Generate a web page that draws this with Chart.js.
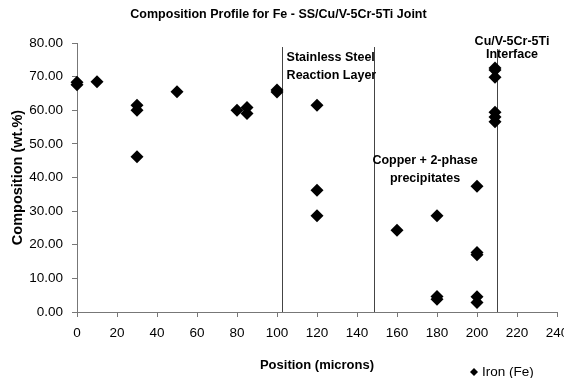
<!DOCTYPE html>
<html>
<head>
<meta charset="utf-8">
<script src="https://cdn.jsdelivr.net/npm/chart.js@4"></script>
<style>
  html, body { margin: 0; padding: 0; background: #fff; }
  #wrap { width: 564px; height: 378px; }
</style>
</head>
<body>
<div id="wrap"><canvas id="chart"></canvas></div>
<script>
// data
const positions = [0, 0, 10, 30, 30, 30, 50, 80, 85, 85, 100, 100, 120, 120, 120, 160, 180, 180, 180, 200, 200, 200, 200, 200, 209, 209, 209, 209, 209, 209]
const iron = [68.3, 67.6, 68.5, 61.5, 60, 46.2, 65.5, 60, 60.8, 59, 66, 65.4, 61.5, 36.2, 28.6, 24.3, 28.6, 4.6, 3.8, 37.4, 17.7, 17, 4.5, 2.8, 72.6, 72, 69.8, 59.4, 58, 56.6]
const xTicks = [0, 240, 20]
const yTicks = [0, 80, 10]

// region boundaries (microns) and their top (wt.%)
const boundaries = [102.5, 148.5, 210]
const boundaryTops = [78.8, 78.8, 78.2]

// region labels: text, x, y (data units), align
const regionLabels = [
  ['Stainless Steel', 104.8, 75.8, 'left'],
  ['Reaction Layer', 104.8, 70.4, 'left'],
  ['Copper + 2-phase', 174, 44.9, 'center'],
  ['precipitates', 174, 39.6, 'center'],
  ['Cu/V-5Cr-5Ti', 217.5, 80.4, 'center'],
  ['Interface', 217.5, 76.6, 'center']
]

const points = positions.map((x, i) => ({ x: x, y: iron[i] }))

const annotations = {
  id: 'annotations',
  beforeDatasetsDraw(chart) {
    const { ctx, scales: { x, y } } = chart
    ctx.save()
    ctx.strokeStyle = '#444'
    ctx.lineWidth = 1
    boundaries.forEach((b, i) => {
      const px = Math.round(x.getPixelForValue(b)) + 0.5
      ctx.beginPath()
      ctx.moveTo(px, y.getPixelForValue(boundaryTops[i]))
      ctx.lineTo(px, y.getPixelForValue(0))
      ctx.stroke()
    })
    ctx.restore()
  },
  afterDraw(chart) {
    const { ctx, scales: { x, y } } = chart
    ctx.save()
    ctx.fillStyle = '#000'
    ctx.font = 'bold 12.5px "Liberation Sans", Arial, sans-serif'
    ctx.textBaseline = 'middle'
    regionLabels.forEach(l => {
      ctx.textAlign = l[3]
      ctx.fillText(l[0], x.getPixelForValue(l[1]), y.getPixelForValue(l[2]))
    })

    // legend
    const lx = 474, ly = 372, r = 4
    ctx.beginPath()
    ctx.moveTo(lx, ly - r)
    ctx.lineTo(lx + r, ly)
    ctx.lineTo(lx, ly + r)
    ctx.lineTo(lx - r, ly)
    ctx.closePath()
    ctx.fill()
    ctx.font = '13.5px "Liberation Sans", Arial, sans-serif'
    ctx.textAlign = 'left'
    ctx.fillText(chart.data.datasets[0].label, lx + 8, ly)
    ctx.restore()
  }
}

new Chart(document.getElementById('chart'), {
  type: 'scatter',
  data: {
    datasets: [{
      label: 'Iron (Fe)',
      data: points,
      pointStyle: 'rectRot',
      pointRadius: 6.5,
      pointHoverRadius: 6.5,
      backgroundColor: '#000',
      borderColor: '#000',
      borderWidth: 0,
      clip: false
    }]
  },
  options: {
    responsive: true,
    maintainAspectRatio: false,
    animation: false,
    layout: { padding: { left: 0, right: 7, top: 0, bottom: 0 } },
    plugins: {
      legend: { display: false },
      tooltip: { enabled: false },
      title: {
        display: true,
        text: 'Composition Profile for Fe - SS/Cu/V-5Cr-5Ti Joint',
        color: '#000',
        font: { family: '"Liberation Sans", Arial, sans-serif', size: 12.5, weight: 'bold' },
        padding: { top: 7.5, bottom: 20.5 }
      }
    },
    scales: {
      x: {
        type: 'linear',
        min: xTicks[0],
        max: xTicks[1],
        ticks: {
          stepSize: xTicks[2],
          color: '#000',
          padding: 8,
          maxRotation: 0,
          font: { family: '"Liberation Sans", Arial, sans-serif', size: 13.5 }
        },
        grid: { drawOnChartArea: false, tickLength: 5, color: '#777' },
        border: { color: '#777' },
        title: {
          display: true,
          text: 'Position (microns)',
          color: '#000',
          font: { family: '"Liberation Sans", Arial, sans-serif', size: 13, weight: 'bold' },
          padding: { top: 5, bottom: 5 }
        },
        afterFit(scale) {
          scale.height = 66
          scale.paddingLeft = 0
          scale.paddingRight = 0
        }
      },
      y: {
        min: yTicks[0],
        max: yTicks[1],
        ticks: {
          stepSize: yTicks[2],
          color: '#000',
          padding: 9,
          font: { family: '"Liberation Sans", Arial, sans-serif', size: 13.5 },
          callback: v => v.toFixed(2)
        },
        grid: { drawOnChartArea: false, tickLength: 5, color: '#777' },
        border: { color: '#777' },
        title: {
          display: true,
          text: 'Composition (wt.%)',
          color: '#000',
          font: { family: '"Liberation Sans", Arial, sans-serif', size: 14.5, weight: 'bold' },
          padding: { top: 9, bottom: 9 }
        },
        afterFit(scale) {
          scale.width = 77
        }
      }
    }
  },
  plugins: [annotations]
})
</script>
</body>
</html>
